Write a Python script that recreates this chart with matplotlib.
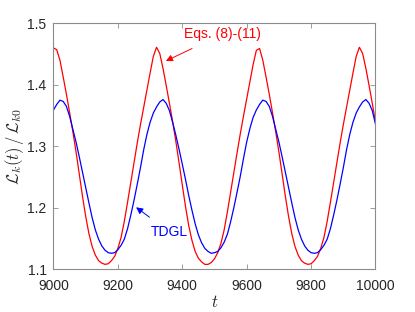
import numpy as np
import matplotlib
matplotlib.use("Agg")
import matplotlib.pyplot as plt

# time samples (t axis)
t = np.arange(9000, 10001, 10)

# L_k(t)/L_k0 from Eqs. (8)-(11) (red)
red = [1.460, 1.457, 1.440, 1.413, 1.385, 1.355, 1.324, 1.291, 1.255, 1.219,
       1.186, 1.158, 1.137, 1.123, 1.114, 1.110, 1.108, 1.109, 1.114, 1.121,
       1.134, 1.152, 1.178, 1.209, 1.241, 1.273, 1.305, 1.335, 1.363, 1.391,
       1.419, 1.446, 1.461, 1.451, 1.427, 1.399, 1.370, 1.340, 1.308, 1.273,
       1.237, 1.202, 1.171, 1.147, 1.129, 1.118, 1.112, 1.108, 1.108, 1.111,
       1.117, 1.127, 1.142, 1.164, 1.193, 1.225, 1.257, 1.289, 1.320, 1.349,
       1.377, 1.405, 1.433, 1.456, 1.459, 1.440, 1.413, 1.385, 1.355, 1.324,
       1.291, 1.255, 1.219, 1.186, 1.158, 1.137, 1.123, 1.114, 1.110, 1.108,
       1.109, 1.114, 1.121, 1.134, 1.152, 1.178, 1.209, 1.241, 1.273, 1.305,
       1.335, 1.363, 1.391, 1.419, 1.446, 1.461, 1.451, 1.427, 1.399, 1.370,
       1.339]

# TDGL (blue)
blue = [1.359, 1.368, 1.375, 1.373, 1.365, 1.349, 1.328, 1.307, 1.283, 1.258,
        1.233, 1.208, 1.184, 1.164, 1.149, 1.138, 1.131, 1.127, 1.126, 1.127,
        1.132, 1.139, 1.149, 1.166, 1.188, 1.212, 1.238, 1.265, 1.294, 1.319,
        1.339, 1.354, 1.364, 1.372, 1.376, 1.370, 1.358, 1.339, 1.318, 1.295,
        1.271, 1.246, 1.220, 1.196, 1.174, 1.156, 1.143, 1.134, 1.129, 1.126,
        1.127, 1.129, 1.135, 1.144, 1.157, 1.177, 1.200, 1.225, 1.251, 1.280,
        1.307, 1.329, 1.347, 1.359, 1.368, 1.375, 1.373, 1.365, 1.349, 1.328,
        1.307, 1.283, 1.258, 1.233, 1.208, 1.184, 1.164, 1.149, 1.138, 1.131,
        1.127, 1.126, 1.127, 1.132, 1.139, 1.149, 1.166, 1.188, 1.212, 1.238,
        1.265, 1.294, 1.319, 1.339, 1.354, 1.364, 1.372, 1.376, 1.370, 1.358,
        1.336]

xticks = [9000, 9200, 9400, 9600, 9800, 10000]
yticks = [1.1, 1.2, 1.3, 1.4, 1.5]
yticklabels = ['1.1', '1.2', '1.3', '1.4', '1.5']

plt.rcParams['mathtext.fontset'] = 'cm'
plt.rcParams['font.family'] = ['Liberation Sans', 'DejaVu Sans']

fig = plt.figure(figsize=(4.15, 3.12), dpi=100)
ax = fig.add_axes([0.1289, 0.1369, 0.7759, 0.7885])
ax.plot(t, red, color='red', lw=0.9)
ax.plot(t, blue, color='blue', lw=0.9)
ax.set_xlim(9000, 10000)
ax.set_ylim(1.1, 1.5)
ax.set_xticks(xticks)
ax.set_yticks(yticks)
ax.set_yticklabels(yticklabels)
for s in ax.spines.values():
    s.set_color('#8c8c8c')
    s.set_linewidth(0.8)
ax.tick_params(direction='in', length=3.5, width=0.6, color='#8c8c8c', top=True, right=True,
               labelsize=10, labelcolor='#262626')
ax.tick_params(axis='x', pad=7)
ax.tick_params(axis='y', pad=5)
ax.set_xlabel('$t$', fontsize=12, color='#262626')
ax.xaxis.set_label_coords(0.5, -0.10)
ax.set_ylabel(r'$\mathcal{L}_k(t)\,/\,\mathcal{L}_{k0}$', fontsize=12, color='#262626')
ax.yaxis.set_label_coords(-0.085, 0.5)

ax.annotate('Eqs. (8)-(11)', xy=(9349, 1.4387), xytext=(9406, 1.4826), color='red', fontsize=10,
            ha='left', va='center',
            arrowprops=dict(arrowstyle='-|>', color='red', lw=0.7, mutation_scale=10,
                            shrinkA=8, shrinkB=0))
ax.annotate('TDGL', xy=(9256.6, 1.2008), xytext=(9302, 1.1607), color='blue', fontsize=10,
            ha='left', va='center',
            arrowprops=dict(arrowstyle='-|>', color='blue', lw=0.7, mutation_scale=10,
                            shrinkA=6, shrinkB=0))

fig.savefig("out.png")
